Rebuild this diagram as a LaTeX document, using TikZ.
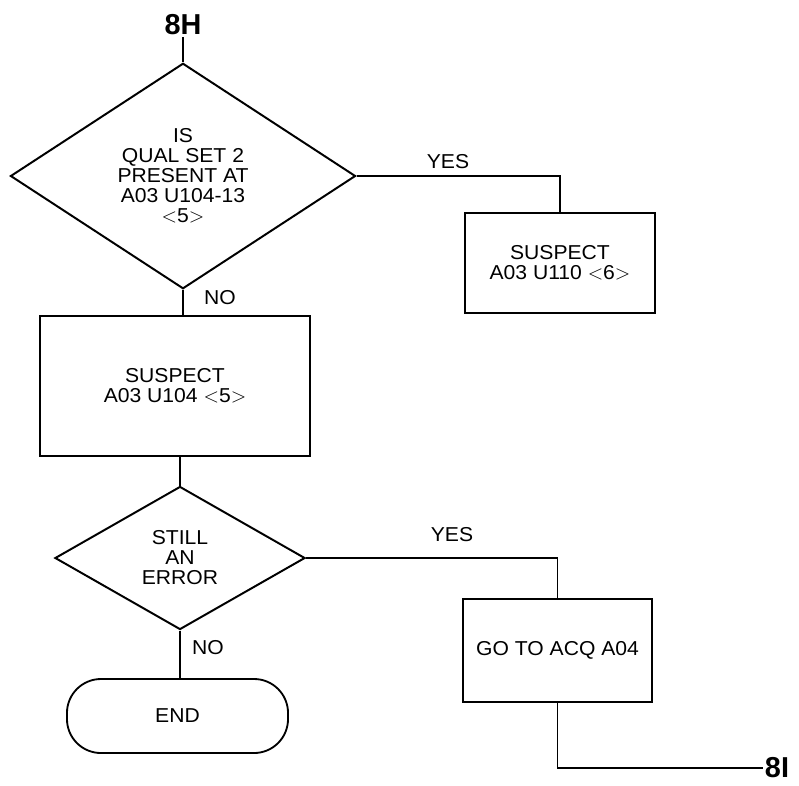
\documentclass[tikz,border=0pt]{standalone}
\usepackage{fontspec}
\setmainfont[FakeStretch=1.05]{Liberation Sans}
\newfontfamily\labfont{Liberation Sans}
\usetikzlibrary{shapes.geometric}

\begin{document}
\begin{tikzpicture}[
  x=0.025cm,y=-0.025cm,
  line width=1.2pt,
  txt/.style={font=\fontsize{14.3}{14.2}\selectfont,align=center},
  box/.style={draw,line width=1.3pt,txt,inner sep=0pt},
  dec/.style={draw,diamond,line width=1.4pt,txt,inner sep=0pt},
  term/.style={draw,line width=1.3pt,txt,rounded corners=0.85cm},
  lab/.style={txt,inner sep=1pt},
  pg/.style={font=\labfont\fontsize{20.5}{22}\bfseries\selectfont,inner sep=1pt}
]
\useasboundingbox (0,0) rectangle (799,785);
\node[pg] (h8) at (183,25) {8H};
\node[dec,minimum width=8.625cm,minimum height=5.525cm] (q1) at (183,176)
  {IS\\QUAL SET 2\\PRESENT AT\\A03 U104-13\\$<$5$>$};
\node[box,minimum width=4.75cm,minimum height=2.5cm] (u110) at (560,263)
  {SUSPECT\\A03 U110 $<$6$>$};
\node[box,minimum width=6.75cm,minimum height=3.5cm] (u104) at (175,386)
  {SUSPECT\\A03 U104 $<$5$>$};
\node[dec,minimum width=6.25cm,minimum height=3.575cm] (err) at (180,558)
  {STILL\\AN\\ERROR};
\node[term,minimum width=5.525cm,minimum height=1.85cm] (end) at (177.5,716) {END};
\node[box,minimum width=4.725cm,minimum height=2.575cm] (acq) at (557.5,650.5)
  {GO TO ACQ A04};
\node[pg] (i8) at (777,768) {8I};
% connectors
\draw (h8) -- (q1.north);
\draw (q1.east) -| (u110.north);
\node[lab] (yes1) at (448,162) {YES};
\draw (q1.south) -- (q1.south |- u104.north);
\node[lab] (no1) at (220,298) {NO};
\draw (err.north |- u104.south) -- (err.north);
\draw (err.east) -| (acq.north);
\node[lab] (yes2) at (452,535) {YES};
\draw (err.south) -- (err.south |- end.north);
\node[lab] (no2) at (208,648) {NO};
\draw (acq.south) |- (i8.west);
\end{tikzpicture}
\end{document}
